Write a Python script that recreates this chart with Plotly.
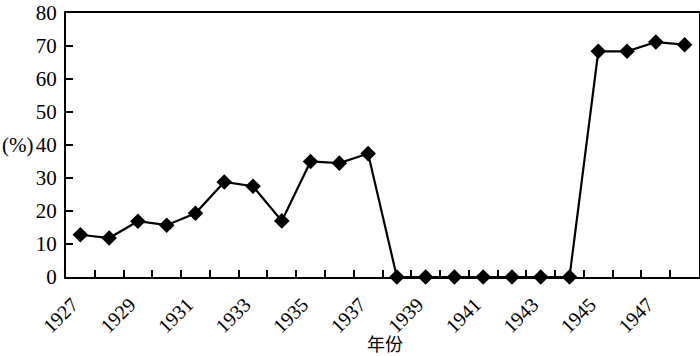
import plotly.graph_objects as go

years = [str(y) for y in range(1927, 1949)]
values = [12.8, 11.8, 16.9, 15.7, 19.3, 28.8, 27.5, 17.0, 35.0, 34.5, 37.4,
          0, 0, 0, 0, 0, 0, 0, 68.4, 68.4, 71.2, 70.4]
tick_text = [y if int(y) % 2 == 1 else "" for y in years]
y_ticks = [0, 10, 20, 30, 40, 50, 60, 70, 80]

fig = go.Figure()
fig.add_trace(go.Scatter(
    x=years, y=values, mode="lines+markers",
    line=dict(color="black", width=2.2),
    marker=dict(symbol="diamond", size=12, color="black"),
    cliponaxis=False,
))

serif = "'Liberation Serif', 'Times New Roman', Times, 'DejaVu Serif', serif"
font = dict(family=serif, size=21, color="black")
xfont = dict(family=serif, size=20, color="black")

fig.update_layout(
    width=700, height=356,
    margin=dict(l=66, r=1, t=13, b=79),
    plot_bgcolor="white", paper_bgcolor="white",
    showlegend=False,
    font=font,
    xaxis=dict(
        type="category", tickmode="array", tickvals=years, ticktext=tick_text,
        range=[-0.5, len(years) - 0.5],
        tickson="boundaries", ticks="inside", ticklen=7, tickwidth=1.5, tickcolor="black",
        tickangle=-45, showline=True, linecolor="black", linewidth=2, mirror=True,
        showgrid=False, zeroline=False, tickfont=xfont, automargin=False,
        ticklabelstandoff=6, ticklabelshift=-8,
    ),
    yaxis=dict(
        range=[0, 80], tickvals=y_ticks, ticks="inside", ticklen=7, tickwidth=1.5,
        tickcolor="black", showline=True, linecolor="black", linewidth=2, mirror=True,
        showgrid=False, zeroline=False, tickfont=font, ticklabelstandoff=3,
        automargin=False,
    ),
)
fig.add_annotation(
    text="(%)", xref="paper", yref="y", x=0, y=40, xanchor="right", yanchor="middle",
    xshift=-31, showarrow=False, font=font,
)
fig.add_annotation(
    text="年份", xref="paper", yref="paper", x=(385 - 66) / 633, y=0,
    xanchor="center", yanchor="middle", yshift=-(343 - 277), showarrow=False,
    font=dict(family="Noto Sans CJK SC", size=18, color="black"),
)
fig.write_html(
    "out.html",
    config={"displayModeBar": False},
    post_script="document.body.style.margin='0';document.body.style.overflow='hidden';",
)
